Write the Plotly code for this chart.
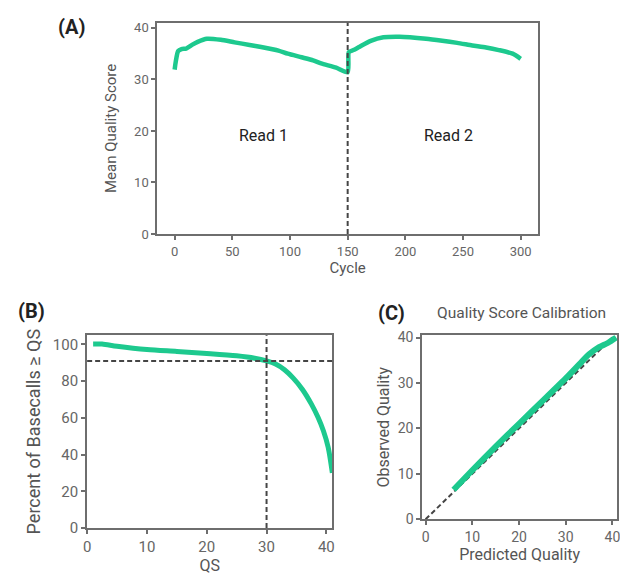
import plotly.graph_objects as go

# ---------------- data ----------------
cycle = [0, 1, 3, 6, 10, 15, 20, 28, 40, 52, 65, 75, 90, 98, 110, 120, 127, 140, 150,
         151, 155, 160, 170, 181, 195, 204, 218, 232, 245, 258, 270, 281, 293, 300]
mean_q = [31.9, 33.5, 35.5, 35.9, 36.0, 36.7, 37.3, 37.9, 37.7, 37.2, 36.7, 36.3, 35.6, 35.0, 34.3, 33.7, 33.1, 32.3, 31.4,
          35.3, 35.7, 36.3, 37.5, 38.2, 38.3, 38.2, 37.9, 37.5, 37.1, 36.6, 36.2, 35.7, 35.0, 34.0]
read_boundary = 150
read_labels = ["Read 1", "Read 2"]
read_label_x = [77, 237]
read_label_y = [19.2, 19.2]

qs = [1, 2.5, 5, 10, 15, 20, 25, 28, 30, 31.5, 33, 34.5, 36, 37.5, 38.6, 39.5, 40.3, 41]
pct_ge_qs = [100.3, 100.2, 99.0, 97.2, 96.2, 95.1, 93.8, 92.5, 91.0, 89.3, 86.2, 81.5, 75.5, 67.5, 60.3, 53.0, 44.0, 30.0]
qs_threshold = 30
pct_threshold = 91

pred_q = [6, 10, 15, 20, 25, 30, 33, 35, 37, 39, 40.8]
obs_q = [6.5, 10.8, 16.0, 21.0, 26.0, 31.0, 34.2, 36.3, 37.8, 38.8, 40.0]
diag_x = [0, 40]
diag_y = [0, 40]

# ---------------- style ----------------
OFF = 8                      # default page body margin
W, H = 628 - OFF, 575 - OFF
GREEN = "#1dc98e"
FRAME = "#6e6e6e"
DASH = "#454545"
FONT = "Roboto"

def px(x0, x1):
    return [(x0 - OFF) / W, (x1 - OFF) / W]

def py(top, bottom):
    return [1 - (bottom - OFF) / H, 1 - (top - OFF) / H]

def pp(x, y):
    return (x - OFF) / W, 1 - (y - OFF) / H

fig = go.Figure()

fig.add_trace(go.Scatter(x=cycle, y=mean_q, mode="lines", xaxis="x", yaxis="y",
                         line=dict(color=GREEN, width=4.5, shape="spline", smoothing=0.6), showlegend=False))
fig.add_trace(go.Scatter(x=qs, y=pct_ge_qs, mode="lines", xaxis="x2", yaxis="y2",
                         line=dict(color=GREEN, width=5, shape="spline", smoothing=0.8), showlegend=False))
fig.add_trace(go.Scatter(x=diag_x, y=diag_y, mode="lines", xaxis="x3", yaxis="y3",
                         line=dict(color=DASH, width=2, dash="5px,3px"), showlegend=False))
fig.add_trace(go.Scatter(x=pred_q, y=obs_q, mode="lines", xaxis="x3", yaxis="y3",
                         line=dict(color=GREEN, width=6, shape="spline", smoothing=0.6), showlegend=False))

def axis(domain, rng, tickvals, size, anchor, title, tsize, standoff):
    return dict(domain=domain, range=rng, tickvals=tickvals, anchor=anchor,
                showline=True, mirror=True, linecolor=FRAME, linewidth=2,
                ticks="outside", ticklen=4, tickwidth=2, tickcolor=FRAME,
                showgrid=False, zeroline=False,
                tickfont=dict(family=FONT, size=size, color="#666"),
                title=dict(text=title, font=dict(family=FONT, size=tsize, color="#555"),
                           standoff=standoff))

fig.update_layout(
    width=W, height=H,
    margin=dict(l=0, r=0, t=0, b=0),
    paper_bgcolor="white", plot_bgcolor="white",
    xaxis=axis(px(155, 540), [-15, 315], [0, 50, 100, 150, 200, 250, 300], 13, "y", "Cycle", 15, 5),
    yaxis=axis(py(17, 234), [0, 41], [0, 10, 20, 30, 40], 13, "x", "Mean Quality Score", 15, 14),
    xaxis2=axis(px(84, 332), [0, 41], [0, 10, 20, 30, 40], 15, "y2", "QS", 16, 1),
    yaxis2=axis(py(338, 536), [0, 105], [0, 20, 40, 60, 80, 100], 15, "x2", "Percent of Basecalls ≥ QS", 18, 8),
    xaxis3=axis(px(423, 620), [-0.7, 41], [0, 10, 20, 30, 40], 14, "y3", "Predicted Quality", 16, 2),
    yaxis3=axis(py(338, 527), [0, 40.5], [0, 10, 20, 30, 40], 14, "x3", "Observed Quality", 16, 4),
)

fig.add_shape(type="line", xref="x", yref="y domain", x0=read_boundary, x1=read_boundary, y0=0, y1=1,
              line=dict(color=DASH, width=2, dash="5px,3px"))
fig.add_shape(type="line", xref="x2", yref="y2 domain", x0=qs_threshold, x1=qs_threshold, y0=0, y1=1,
              line=dict(color=DASH, width=2, dash="5px,3px"))
fig.add_shape(type="line", xref="x2 domain", yref="y2", x0=0, x1=1, y0=pct_threshold, y1=pct_threshold,
              line=dict(color=DASH, width=2, dash="5px,3px"))

for t, x, y in zip(read_labels, read_label_x, read_label_y):
    fig.add_annotation(text=t, x=x, y=y, xref="x", yref="y", showarrow=False,
                       font=dict(family=FONT, size=16, color="#222"))

for t, x, y in [("(A)", 68, 21), ("(B)", 28, 313), ("(C)", 392, 315)]:
    ax, ay = pp(x, y)
    fig.add_annotation(text="<b>" + t + "</b>", x=ax, y=ay, xref="paper", yref="paper",
                       showarrow=False, xanchor="center", yanchor="middle",
                       font=dict(family=FONT, size=20, color="#222"))

tx, ty = pp(523, 315)
fig.add_annotation(text="Quality Score Calibration", x=tx, y=ty, xref="paper", yref="paper",
                   showarrow=False, xanchor="center", yanchor="middle",
                   font=dict(family=FONT, size=15.5, color="#555"))

fig.write_html("out.html")
